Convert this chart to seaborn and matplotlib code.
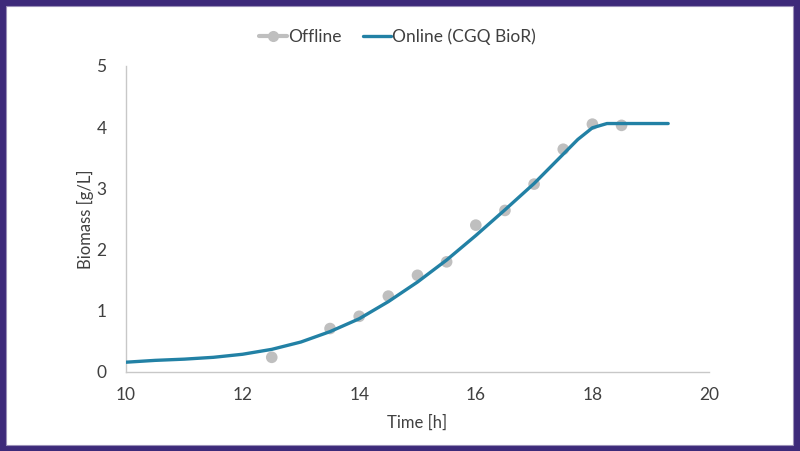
import matplotlib
matplotlib.use("Agg")
import matplotlib.pyplot as plt
from matplotlib.lines import Line2D
from matplotlib.patches import Rectangle
import seaborn as sns
import pandas as pd

offline_t = [12.5, 13.5, 14.0, 14.5, 15.0, 15.5, 16.0, 16.5, 17.0, 17.5, 18.0, 18.5]
offline_biomass = [0.24, 0.71, 0.91, 1.24, 1.58, 1.80, 2.40, 2.64, 3.07, 3.64, 4.05, 4.03]

online_t = [10.0, 10.5, 11.0, 11.5, 12.0, 12.5, 13.0, 13.5, 14.0, 14.5, 15.0,
            15.5, 16.0, 16.5, 17.0, 17.5, 17.75, 18.0, 18.25, 18.5, 19.0, 19.3]
online_biomass = [0.16, 0.19, 0.21, 0.24, 0.29, 0.37, 0.49, 0.66, 0.87, 1.15, 1.47,
                  1.83, 2.23, 2.65, 3.08, 3.56, 3.80, 3.99, 4.06, 4.06, 4.06, 4.06]

x_ticks = [10, 12, 14, 16, 18, 20]
y_ticks = [0, 1, 2, 3, 4, 5]

sns.set_theme(style="white")
plt.rcParams["font.family"] = ["Lato", "DejaVu Sans"]

GRAY = "#bfbfbf"
BLUE = "#2281a5"
PURPLE = "#3d2a7a"
TEXT = "#404040"

fig = plt.figure(figsize=(8.0, 4.51), dpi=100)
fig.patch.set_facecolor(PURPLE)
fig.patches.append(Rectangle((6 / 800, 6 / 451), 787 / 800, 439 / 451,
                             transform=fig.transFigure, facecolor="white",
                             edgecolor="#9a90b8", linewidth=0.8, zorder=-5))

ax = fig.add_axes([126 / 800, (451 - 372) / 451, (709 - 126) / 800, (372 - 66) / 451])
ax.set_facecolor("none")
ax.set_zorder(2)

df_off = pd.DataFrame({"t": offline_t, "b": offline_biomass})
df_on = pd.DataFrame({"t": online_t, "b": online_biomass})

sns.scatterplot(data=df_off, x="t", y="b", ax=ax, color=GRAY, s=70,
                edgecolor="none", zorder=2, legend=False)
sns.lineplot(data=df_on, x="t", y="b", ax=ax, color=BLUE, linewidth=2.4,
             zorder=3, legend=False)

ax.set_xlim(10, 20)
ax.set_ylim(0, 5)
ax.set_xticks(x_ticks)
ax.set_yticks(y_ticks)
ax.tick_params(axis="both", length=0, labelsize=12.5, labelcolor=TEXT)
ax.tick_params(axis="x", pad=11)
ax.tick_params(axis="y", pad=14)
for s in ["top", "right"]:
    ax.spines[s].set_visible(False)
for s in ["left", "bottom"]:
    ax.spines[s].set_color("#c8c8c8")
    ax.spines[s].set_linewidth(1.0)

ax.set_xlabel("Time [h]", fontsize=12, color=TEXT, labelpad=8)
ax.set_ylabel("Biomass [g/L]", fontsize=12, color=TEXT, labelpad=2)

handles = [
    Line2D([0], [0], color=GRAY, lw=3, marker="o", markersize=8, markeredgecolor="none"),
    Line2D([0], [0], color=BLUE, lw=2.4),
]
leg = fig.legend(handles, ["Offline", "Online (CGQ BioR)"], loc="center",
                 bbox_to_anchor=(0.497, (451 - 37) / 451), ncol=2, frameon=False,
                 fontsize=12.5, handlelength=1.6, handletextpad=0.1, columnspacing=1.2,
                 labelcolor=TEXT)
leg.set_zorder(3)

fig.savefig("out.png", dpi=100, facecolor=fig.get_facecolor())
